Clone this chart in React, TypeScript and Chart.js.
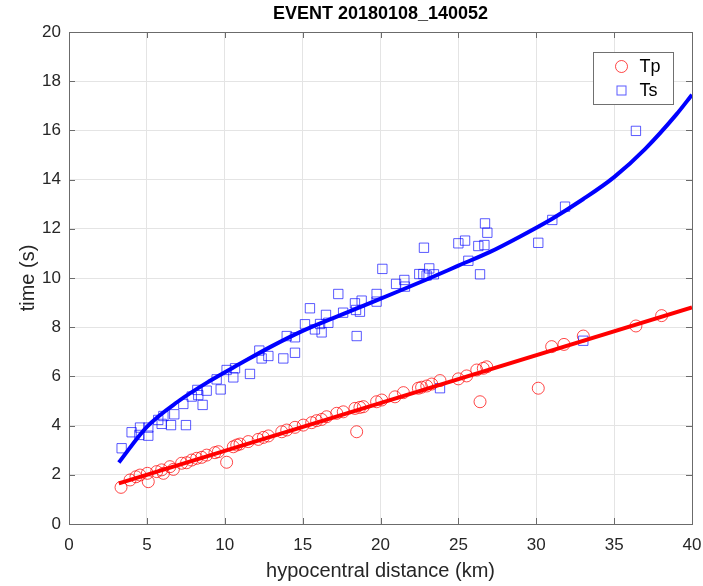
import { useEffect, useRef } from "react";
import { Chart, registerables } from "chart.js";

Chart.register(...registerables);

const titleText = "EVENT 20180108_140052";
const xTitle = "hypocentral distance (km)";
const yTitle = "time (s)";
const seriesLabels = ["Tp", "Ts"];

const tpDistance = [
  3.34, 3.92, 4.3, 4.56, 5.09, 5.03, 5.63, 5.95, 6.06, 6.48, 6.7, 7.23, 7.55, 7.88, 8.2, 8.52,
  8.84, 9.37, 9.59, 10.12, 10.55, 10.77, 10.98, 11.51, 12.15, 12.48, 12.8, 13.66, 13.98, 14.51,
  15.04, 15.58, 15.9, 16.22, 16.54, 17.19, 17.61, 18.36, 18.47, 18.68, 18.9, 19.75, 20.08, 20.93,
  21.47, 22.43, 22.64, 22.97, 23.29, 23.82, 25.0, 25.53, 26.18, 26.39, 26.6, 26.82, 30.13, 30.99,
  31.78, 33.02, 36.4, 38.05,
];
const tpTime = [
  1.49, 1.79, 1.92, 1.99, 1.72, 2.06, 2.13, 2.2, 2.06, 2.33, 2.22, 2.47, 2.49, 2.6, 2.67, 2.71,
  2.8, 2.9, 2.94, 2.51, 3.14, 3.21, 3.25, 3.35, 3.44, 3.52, 3.58, 3.75, 3.82, 3.93,
  4.02, 4.12, 4.2, 4.25, 4.36, 4.5, 4.56, 4.7, 3.75, 4.74, 4.77, 4.97, 5.04, 5.17,
  5.34, 5.52, 5.56, 5.61, 5.69, 5.83, 5.9, 6.02, 6.26, 4.97, 6.33, 6.39, 5.52, 7.21,
  7.3, 7.64, 8.05, 8.47,
];

const tsDistance = [
  3.38, 4.02, 4.56, 4.52, 5.09, 5.09, 5.73, 6.06, 5.95, 6.55, 6.76, 7.34, 7.51, 7.88, 8.24, 8.3,
  8.58, 8.84, 9.48, 9.74, 10.12, 10.55, 10.66, 11.62, 12.22, 12.37, 12.8, 13.76, 13.98, 14.51,
  14.51, 15.15, 15.47, 15.79, 16.12, 16.22, 16.5, 16.65, 17.29, 17.6, 18.36, 18.43, 18.47, 18.68,
  18.79, 19.75, 19.75, 20.12, 21.0, 21.53, 21.57, 22.79, 22.49, 22.75, 23.13, 22.96, 23.43, 23.82,
  25.0, 25.43, 25.64, 26.39, 26.28, 26.71, 26.86, 26.67, 30.13, 31.03, 31.85, 33.02, 36.4,
];
const tsTime = [
  3.08, 3.73, 3.92, 3.62, 3.92, 3.59, 4.23, 4.39, 4.07, 4.02, 4.46, 4.88, 4.02, 5.18, 5.45, 5.24,
  4.84, 5.42, 5.88, 5.47, 6.26, 5.96, 6.33, 6.1, 7.05, 6.73, 6.83, 6.73, 7.64, 7.59,
  6.96, 8.12, 8.77, 7.91, 8.13, 7.79, 8.5, 8.18, 9.35, 8.59, 8.97, 8.7, 7.64, 8.63,
  9.08, 9.35, 9.04, 10.37, 9.76, 9.92, 9.65, 11.23, 10.16, 10.16, 10.39, 10.1, 10.15, 5.52,
  11.41, 11.52, 10.7, 10.15, 11.3, 12.22, 11.84, 11.34, 11.43, 12.36, 12.9, 7.45, 15.98,
];

const tpFitDistance = [3.2, 40];
const tpFitTime = [1.65, 8.8];

const tsFitDistance = [3.2, 5, 7, 9, 11, 13, 15, 17, 19, 21, 23, 25, 27, 29, 31, 33, 35, 37, 39, 40];
const tsFitTime = [2.5, 3.95, 4.98, 5.8, 6.52, 7.22, 7.85, 8.38, 8.9, 9.42, 9.95, 10.5, 11.05, 11.7, 12.4, 13.2, 14.1, 15.25, 16.65, 17.45];

const xMin = 0, xMax = 40, xStep = 5;
const yMin = 0, yMax = 20, yStep = 2;

const toPoints = (xs: number[], ys: number[]) => xs.map((x, i) => ({ x, y: ys[i] }));

const FONT = "'Liberation Sans', Arial, Helvetica, sans-serif";
const TP_MARK = "rgba(255,0,0,0.72)";
const TS_MARK = "rgba(0,0,255,0.65)";
const AXIS = "#6b6b6b";

const framePlugin = {
  id: "matlabFrame",
  afterDatasetsDraw(chart: any) {
    const { ctx, chartArea: a, scales } = chart;
    ctx.save();
    ctx.strokeStyle = AXIS;
    ctx.lineWidth = 1;
    ctx.strokeRect(Math.round(a.left) + 0.5, Math.round(a.top) + 0.5, Math.round(a.right - a.left), Math.round(a.bottom - a.top));
    const tl = 6;
    ctx.beginPath();
    scales.x.ticks.forEach((t: any) => {
      const px = Math.round(scales.x.getPixelForValue(t.value)) + 0.5;
      ctx.moveTo(px, a.bottom);
      ctx.lineTo(px, a.bottom - tl);
      ctx.moveTo(px, a.top);
      ctx.lineTo(px, a.top + tl);
    });
    scales.y.ticks.forEach((t: any) => {
      const py = Math.round(scales.y.getPixelForValue(t.value)) + 0.5;
      ctx.moveTo(a.left, py);
      ctx.lineTo(a.left + tl, py);
      ctx.moveTo(a.right, py);
      ctx.lineTo(a.right - tl, py);
    });
    ctx.stroke();

    // title centred over the plot area
    ctx.fillStyle = "#000000";
    ctx.font = `bold 18px ${FONT}`;
    ctx.textAlign = "center";
    ctx.textBaseline = "middle";
    ctx.fillText(titleText, (a.left + a.right) / 2, 14);

    // legend
    const bw = 80, bh = 52;
    const bx = Math.round(a.right - 19 - bw) + 0.5;
    const by = Math.round(a.top + 20) + 0.5;
    ctx.fillStyle = "#ffffff";
    ctx.fillRect(bx, by, bw, bh);
    ctx.strokeStyle = "#707070";
    ctx.strokeRect(bx, by, bw, bh);
    ctx.font = `18px ${FONT}`;
    ctx.textBaseline = "middle";
    ctx.textAlign = "left";
    ctx.fillStyle = "#000000";
    const mx = bx + 28;
    const r1y = by + 14;
    const r2y = by + 38;
    ctx.lineWidth = 1;
    ctx.strokeStyle = TP_MARK;
    ctx.beginPath();
    ctx.arc(mx, r1y, 6, 0, Math.PI * 2);
    ctx.stroke();
    ctx.strokeStyle = TS_MARK;
    ctx.strokeRect(mx - 4.5, r2y - 4.5, 9, 9);
    ctx.fillText(seriesLabels[0], bx + 46, r1y + 1);
    ctx.fillText(seriesLabels[1], bx + 46, r2y + 1);
    ctx.restore();
  },
};

export default function App() {
  const ref = useRef<HTMLCanvasElement | null>(null);
  useEffect(() => {
    document.body.style.margin = "0";
    const canvas = ref.current;
    if (!canvas) return;
    const chart = new Chart(canvas, {
      type: "scatter",
      data: {
        datasets: [
          {
            label: seriesLabels[0] + " fit",
            data: toPoints(tpFitDistance, tpFitTime),
            showLine: true,
            borderColor: "#ff0000",
            borderWidth: 4,
            pointRadius: 0,
            order: 1,
          },
          {
            label: seriesLabels[1] + " fit",
            data: toPoints(tsFitDistance, tsFitTime),
            showLine: true,
            borderColor: "#0000ff",
            borderWidth: 4,
            pointRadius: 0,
            cubicInterpolationMode: "monotone",
            order: 0,
          },
          {
            label: seriesLabels[0],
            data: toPoints(tpDistance, tpTime),
            pointStyle: "circle",
            pointRadius: 6,
            borderColor: TP_MARK,
            backgroundColor: "rgba(0,0,0,0)",
            borderWidth: 1,
            order: 3,
          },
          {
            label: seriesLabels[1],
            data: toPoints(tsDistance, tsTime),
            pointStyle: "rect",
            pointRadius: 6.6,
            borderColor: TS_MARK,
            backgroundColor: "rgba(0,0,0,0)",
            borderWidth: 1,
            order: 2,
          },
        ],
      },
      options: {
        responsive: false,
        animation: false,
        layout: { padding: { left: 0, right: 11, top: 32, bottom: 0 } },
        plugins: {
          legend: { display: false },
          tooltip: { enabled: false },
          title: { display: false },
        },
        scales: {
          x: {
            type: "linear",
            min: xMin,
            max: xMax,
            afterFit: (s: any) => {
              s.height = 62;
              s.paddingLeft = 0;
              s.paddingRight = 0;
            },
            ticks: {
              stepSize: xStep,
              color: "#262626",
              font: { family: FONT, size: 17 },
              padding: 11,
              maxRotation: 0,
            },
            grid: { color: "#e4e4e4", lineWidth: 1, drawTicks: false },
            border: { display: false },
            title: {
              display: true,
              text: xTitle,
              color: "#262626",
              font: { family: FONT, size: 20 },
              padding: { top: 0, bottom: 3 },
            },
          },
          y: {
            type: "linear",
            min: yMin,
            max: yMax,
            afterFit: (s: any) => {
              s.width = 69;
              s.paddingTop = 0;
              s.paddingBottom = 0;
            },
            ticks: {
              stepSize: yStep,
              color: "#262626",
              font: { family: FONT, size: 17 },
              padding: 8,
            },
            grid: { color: "#e4e4e4", lineWidth: 1, drawTicks: false },
            border: { display: false },
            title: {
              display: true,
              text: yTitle,
              color: "#262626",
              font: { family: FONT, size: 20 },
              padding: { top: 16, bottom: 0 },
            },
          },
        },
      },
      plugins: [framePlugin],
    } as any);
    return () => chart.destroy();
  }, []);
  return (
    <div style={{ width: 703, height: 586 }}>
      <canvas ref={ref} width={703} height={586} style={{ width: 703, height: 586, display: "block" }} />
    </div>
  );
}
